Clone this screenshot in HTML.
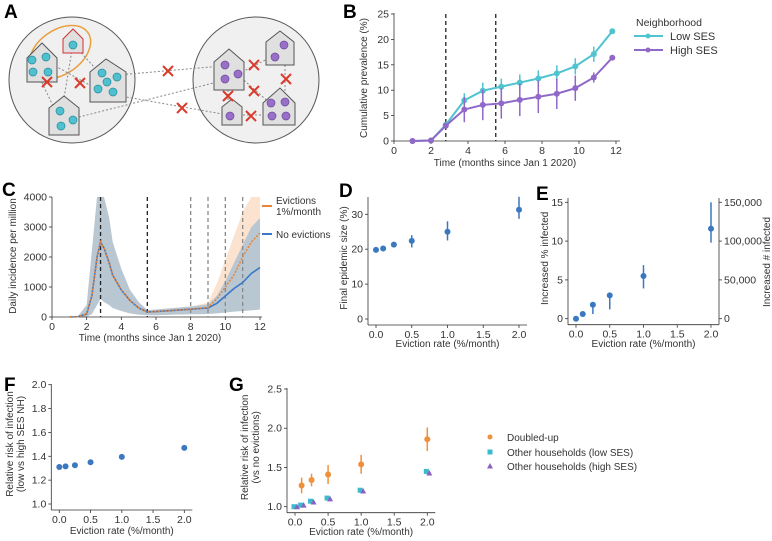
<!DOCTYPE html>
<html><head><meta charset="utf-8"><style>
html,body{margin:0;padding:0;background:#fff;width:772px;height:541px;overflow:hidden}
svg{display:block;font-family:"Liberation Sans",sans-serif}
text{fill:#333}
.pl{font-weight:bold;font-size:19px;fill:#000}
</style></head><body>
<svg id="fig" width="772" height="541" viewBox="0 0 772 541">
<text class="pl" x="4" y="18">A</text>
<text class="pl" x="343" y="18">B</text>
<text class="pl" x="2" y="196">C</text>
<text class="pl" x="339" y="197">D</text>
<text class="pl" x="536" y="200">E</text>
<text class="pl" x="4" y="391">F</text>
<text class="pl" x="229" y="391">G</text>
<g id="schematic">
<circle cx="72" cy="80" r="63" fill="#f0f0f0" stroke="#555"/>
<circle cx="256" cy="80" r="63" fill="#f0f0f0" stroke="#555"/>
<ellipse cx="60" cy="52" rx="34" ry="22" transform="rotate(-35 60 52)" fill="none" stroke="#e8a040" stroke-width="1.5"/>
<g stroke="#888" stroke-dasharray="2,2" fill="none">
<line x1="48" y1="62" x2="95" y2="88"/><line x1="73" y1="44" x2="95" y2="68"/><line x1="73" y1="44" x2="62" y2="110"/>
<line x1="35" y1="68" x2="55" y2="110"/><line x1="118" y1="75" x2="222" y2="66"/><line x1="75" y1="118" x2="225" y2="80"/>
<line x1="115" y1="95" x2="228" y2="115"/><line x1="242" y1="72" x2="275" y2="55"/><line x1="238" y1="75" x2="280" y2="112"/>
<line x1="285" y1="45" x2="285" y2="95"/><line x1="231" y1="115" x2="275" y2="115"/><line x1="228" y1="70" x2="228" y2="110"/>
</g>
<g fill="#e0e0e0" stroke="#555">
<path d="M27 58 L42 43 L57 58 L57 82 L27 82Z"/>
<path d="M63 39 L73 29 L83 39 L83 53 L63 53Z" stroke="#d03030"/>
<path d="M90 72 L106 59 L126 72 L126 102 L90 102Z"/>
<path d="M49 108 L64 96 L79 108 L79 135 L49 135Z"/>
<path d="M214 62 L229 49 L244 62 L244 90 L214 90Z"/>
<path d="M266 42 L280 31 L294 42 L294 65 L266 65Z"/>
<path d="M222 107 L232 99 L242 107 L242 125 L222 125Z"/>
<path d="M263 103 L280 88 L295 103 L295 125 L263 125Z"/>
</g>
<g fill="#4fc0cf" stroke="#2a8a99" stroke-width=".7">
<circle cx="32" cy="60" r="4"/><circle cx="46" cy="57" r="4"/><circle cx="33" cy="72" r="4"/><circle cx="48" cy="72" r="4"/>
<circle cx="73" cy="45" r="4"/>
<circle cx="102" cy="73" r="4"/><circle cx="117" cy="77" r="4"/><circle cx="107" cy="82" r="4"/><circle cx="98" cy="89" r="4"/><circle cx="113" cy="92" r="4"/>
<circle cx="60" cy="111" r="4"/><circle cx="73" cy="120" r="4"/><circle cx="61" cy="126" r="4"/>
</g>
<g fill="#9a6fc8" stroke="#6a4a99" stroke-width=".7">
<circle cx="225" cy="65" r="4"/><circle cx="238" cy="74" r="4"/><circle cx="225" cy="79" r="4"/>
<circle cx="284" cy="45" r="4"/><circle cx="275" cy="57" r="4"/>
<circle cx="230" cy="116" r="4"/>
<circle cx="271" cy="103" r="4"/><circle cx="285" cy="102" r="4"/><circle cx="272" cy="116" r="4"/><circle cx="286" cy="116" r="4"/>
</g>
<g stroke="#d93a2a" stroke-width="2" id="xs"></g>
</g>
<g id="charts"></g>
</svg>
<script>
// ---------- data ----------
const bMonths=[1,2,2.8,3.8,4.8,5.8,6.8,7.8,8.8,9.8,10.8,11.8];
const bLow=[0,0.1,3.2,8,9.9,10.7,11.5,12.3,13.3,14.7,17.1,21.6];
const bLowErr=[0,0,0,1.4,1.6,1.6,1.6,1.6,1.6,1.6,1.5,0.3];
const bHigh=[0,0.1,3.0,6.2,7.1,7.4,8.1,8.7,9.3,10.4,12.5,16.4];
const bHighErr=[0,0,0,2.5,3,3,3.2,3.2,3,2.5,1,0.2];
const cTime=[1,1.5,2,2.3,2.6,2.8,3,3.3,3.5,4,4.5,5,5.5,6,7,8,9,9.5,10,10.5,11,11.5,12];
const cNoEv=[0,10,100,700,2000,2500,2300,1800,1400,900,550,300,170,180,220,260,300,450,700,950,1150,1450,1650];
const cEv=[0,10,100,700,2000,2500,2300,1800,1400,900,550,300,170,180,220,260,320,600,1000,1400,2000,2500,2800];
const cBandHi=[0,30,400,2200,4000,4000,4000,3300,2500,1600,900,500,230,250,300,350,420,700,1200,1800,2400,3000,3300];
const cBandHiEv=[0,30,400,2200,4000,4000,4000,3300,2500,1600,900,500,230,250,300,350,480,1100,1900,2700,3500,4000,4000];
const cBandLo=[0,0,10,100,400,600,500,400,300,200,120,80,60,60,80,90,100,120,150,180,200,220,250];
const evRates=[0,0.1,0.25,0.5,1,2];
const dSize=[19.8,20.2,21.3,22.4,25,31.3];
const dLo=[19.4,19.8,20.6,20.5,22.5,28.7];
const dHi=[20.2,20.6,22,24,28,35];
const eInc=[0,0.6,1.8,3,5.5,11.6];
const eLo=[0,0.3,0.6,1.2,3.9,9.8];
const eHi=[0.2,0.9,2.1,3.2,6.9,15];
const fRR=[1.31,1.315,1.325,1.35,1.395,1.47];
const gRates=[0.1,0.25,0.5,1,2];
const gDoubled=[1.27,1.34,1.41,1.54,1.86];
const gDoubledErr=[0.1,0.08,0.12,0.12,0.15];
const gLow=[1.0,1.02,1.07,1.11,1.21,1.45];
const gHigh=[1.0,1.02,1.06,1.1,1.2,1.43];
const bXTicks=[0,2,4,6,8,10,12];
const bYTicks=[0,5,10,15,20,25];
const cYTicks=[0,1000,2000,3000,4000];
const evTicks=[0,0.5,1,1.5,2];
// ---------- helpers ----------
const NS="http://www.w3.org/2000/svg";
const root=document.getElementById('charts');
function el(tag,attrs,parent,txt){const e=document.createElementNS(NS,tag);for(const k in attrs)e.setAttribute(k,attrs[k]);if(txt!==undefined)e.textContent=txt;(parent||root).appendChild(e);return e;}
function lin(d0,d1,r0,r1){return v=>r0+(v-d0)*(r1-r0)/(d1-d0);}
function axes(g,x0,x1,y0,y1){el('line',{x1:x0,y1:y0,x2:x0,y2:y1,stroke:'#333','stroke-width':0.8},g);el('line',{x1:x0,y1:y0,x2:x1,y2:y0,stroke:'#333','stroke-width':0.8},g);}
function xtick(g,x,y,lab){el('line',{x1:x,y1:y,x2:x,y2:y+3,stroke:'#333','stroke-width':0.8},g);const t=el('text',{x:x,y:y+13,'text-anchor':'middle','font-size':10.5},g,lab);}
function ytick(g,x,y,lab){el('line',{x1:x,y1:y,x2:x-3,y2:y,stroke:'#333','stroke-width':0.8},g);const t=el('text',{x:x-5,y:y+3.5,'text-anchor':'end','font-size':10.5},g,lab);}
function ylab(g,x,y,lines){lines.forEach((l,i)=>{const t=el('text',{x:0,y:0,transform:`translate(${x+i*11},${y}) rotate(-90)`,'text-anchor':'middle','font-size':10},g,l);});}
function xlab(g,x,y,l){const t=el('text',{x:x,y:y,'text-anchor':'middle','font-size':10},g,l);}
function vline(g,x,y0,y1,col,dash){el('line',{x1:x,y1:y0,x2:x,y2:y1,stroke:col,'stroke-width':1.3,'stroke-dasharray':dash},g);}
const xg=document.getElementById('xs');
[[47,82],[80,83],[168,71],[182,108],[254,65],[254,91],[228,96],[251,116],[286,79]].forEach(p=>{el('path',{d:`M${p[0]-5} ${p[1]-5}L${p[0]+5} ${p[1]+5}M${p[0]+5} ${p[1]-5}L${p[0]-5} ${p[1]+5}`},xg);});
// ---------- Panel B ----------
(function(){
const g=el('g',{});
const X=lin(0,12,394,616),Y=lin(0,25,141,14);
axes(g,394,620,141,13);
bXTicks.forEach(v=>xtick(g,X(v),141,v));bYTicks.forEach(v=>ytick(g,394,Y(v),v));
ylab(g,367,78,['Cumulative prevalence (%)']);xlab(g,505,166,'Time (months since Jan 1 2020)');
vline(g,X(2.8),14,141,'#222','4,3');vline(g,X(5.5),14,141,'#222','4,3');
[[bLow,bLowErr,'#4fc3cf','low-ses'],[bHigh,bHighErr,'#9068c8','high-ses']].forEach(s=>{
 const sg=el('g',{},g);
 s[0].forEach((v,i)=>{if(s[1][i]>0)el('line',{x1:X(bMonths[i]),x2:X(bMonths[i]),y1:Y(v-s[1][i]),y2:Y(v+s[1][i]),stroke:s[2],'stroke-width':1.5},sg);});
 el('polyline',{points:s[0].map((v,i)=>X(bMonths[i])+','+Y(v)).join(' '),fill:'none',stroke:s[2],'stroke-width':2},sg);
 s[0].forEach((v,i)=>{el('circle',{cx:X(bMonths[i]),cy:Y(v),r:3,fill:s[2]},sg);});
});
const lg=el('g',{},g);
el('text',{x:636,y:26,'font-size':10.5},lg,'Neighborhood');
el('line',{x1:634,x2:663,y1:36,y2:36,stroke:'#4fc3cf','stroke-width':2},lg);el('circle',{cx:648,cy:36,r:2.5,fill:'#4fc3cf'},lg);el('text',{x:670,y:40,'font-size':11},lg,'Low SES');
el('line',{x1:634,x2:663,y1:50,y2:50,stroke:'#9068c8','stroke-width':2},lg);el('circle',{cx:648,cy:50,r:2.5,fill:'#9068c8'},lg);el('text',{x:670,y:54,'font-size':11},lg,'High SES');
})();
// ---------- Panel C ----------
(function(){
const g=el('g',{});
const X=lin(0,12,52,260),Y=lin(0,4000,317,197);
const band=(hi,lo,fill)=>el('path',{d:'M'+cTime.map((t,i)=>X(t)+','+Y(hi[i])).join('L')+'L'+cTime.map((t,i)=>X(t)+','+Y(lo[i])).reverse().join('L')+'Z',fill:fill},g);
const b1=band(cBandHiEv,cBandLo,'#fbe3cf');
const b2=band(cBandHi,cBandLo,'#b9c7d2');
axes(g,52,262,317,197);
[0,2,4,6,8,10,12].forEach(v=>xtick(g,X(v),317,v));cYTicks.forEach(v=>ytick(g,52,Y(v),v));
ylab(g,16,256,['Daily incidence per million']);xlab(g,150,341,'Time (months since Jan 1 2020)');
vline(g,X(2.8),197,317,'#222','4,3');vline(g,X(5.5),197,317,'#222','4,3');
[8,9,10,11].forEach(v=>vline(g,X(v),197,317,'#888','4,3'));
const l1=el('polyline',{points:cNoEv.map((v,i)=>X(cTime[i])+','+Y(v)).join(' '),fill:'none',stroke:'#3a78c8','stroke-width':1.6},g);
const l2=el('polyline',{points:cEv.map((v,i)=>X(cTime[i])+','+Y(v)).join(' '),fill:'none',stroke:'#e8853a','stroke-width':1.6,'stroke-dasharray':'2,1.5'},g);
const lg=el('g',{},g);
el('line',{x1:262,x2:272,y1:206,y2:206,stroke:'#e8853a','stroke-width':2},lg);el('text',{x:276,y:204,'font-size':10},lg,'Evictions');el('text',{x:276,y:215,'font-size':10},lg,'1%/month');
el('line',{x1:262,x2:272,y1:234,y2:234,stroke:'#3a78c8','stroke-width':2},lg);el('text',{x:276,y:238,'font-size':10},lg,'No evictions');
})();
function scatter(name,xr,yr,yt,fmtY,ylines,ylx,xly){
 const g=el('g',{});
 const X=lin(0,2,xr[0],xr[1]),Y=lin(yr[2],yr[3],yr[0],yr[1]);
 axes(g,xr[0]-8,xr[1]+8,yr[0]+6,yr[4]);
 evTicks.forEach(v=>xtick(g,X(v),yr[0]+6,v.toFixed(1)));
 yt.forEach(v=>ytick(g,xr[0]-8,Y(v),fmtY(v)));
 ylab(g,ylx,(yr[0]+yr[4])/2,ylines);
 xlab(g,(xr[0]+xr[1])/2,xly,'Eviction rate (%/month)');
 return {g,X,Y};
}
// ---------- Panel D ----------
(function(){
const p=scatter('panel-d-chart',[376,519],[319,214.3,0,30,197],[0,10,20,30],v=>v,['Final epidemic size (%)'],347,347);
evRates.forEach((r,i)=>{el('line',{x1:p.X(r),x2:p.X(r),y1:p.Y(dLo[i]),y2:p.Y(dHi[i]),stroke:'#3a78c0','stroke-width':1.5},p.g);const c=el('circle',{cx:p.X(r),cy:p.Y(dSize[i]),r:3,fill:'#3a78c0'},p.g);});
})();
// ---------- Panel E ----------
(function(){
const p=scatter('panel-e-chart',[576,711],[318.7,202.3,0,15,198],[0,5,10,15],v=>v,['Increased % infected'],548,347);
el('line',{x1:719,y1:324.7,x2:719,y2:198,stroke:'#333','stroke-width':0.8},p.g);
[[0,'0'],[5,'50,000'],[10,'100,000'],[15,'150,000']].forEach(t=>{el('line',{x1:719,x2:722,y1:p.Y(t[0]),y2:p.Y(t[0]),stroke:'#333','stroke-width':0.8},p.g);el('text',{x:724,y:p.Y(t[0])+3.5,'font-size':10.5},p.g,t[1]);});
const t=el('text',{x:0,y:0,transform:'translate(770,262) rotate(-90)','text-anchor':'middle','font-size':10},p.g,'Increased # infected');
evRates.forEach((r,i)=>{el('line',{x1:p.X(r),x2:p.X(r),y1:p.Y(eLo[i]),y2:p.Y(eHi[i]),stroke:'#3a78c0','stroke-width':1.5},p.g);const c=el('circle',{cx:p.X(r),cy:p.Y(eInc[i]),r:3,fill:'#3a78c0'},p.g);});
})();
// ---------- Panel F ----------
(function(){
const p=scatter('panel-f-chart',[59.3,184.3],[504,384.7,1.0,2.0,384],[1.0,1.2,1.4,1.6,1.8,2.0],v=>v.toFixed(1),['Relative risk of infection','(low vs high SES NH)'],13,534);
evRates.forEach((r,i)=>{const c=el('circle',{cx:p.X(r),cy:p.Y(fRR[i]),r:3,fill:'#3a78c0'},p.g);});
})();
// ---------- Panel G ----------
(function(){
const p=scatter('panel-g-chart',[295,427.3],[506.7,389,1.0,2.5,388],[1.0,1.5,2.0,2.5],v=>v.toFixed(1),['Relative risk of infection','(vs no evictions)'],248,535);
gRates.forEach((r,i)=>{el('line',{x1:p.X(r),x2:p.X(r),y1:p.Y(gDoubled[i]-gDoubledErr[i]),y2:p.Y(gDoubled[i]+gDoubledErr[i]),stroke:'#f0903a','stroke-width':1.5},p.g);const c=el('circle',{cx:p.X(r),cy:p.Y(gDoubled[i]),r:3,fill:'#f0903a'},p.g);});
evRates.forEach((r,i)=>{const x=p.X(r)-1,y=p.Y(gLow[i]);const s=el('rect',{x:x-2.5,y:y-2.5,width:5,height:5,fill:'#3bbccc'},p.g);});
evRates.forEach((r,i)=>{const x=p.X(r)+2,y=p.Y(gHigh[i]);const s=el('path',{d:`M${x} ${y-3}L${x+3} ${y+2.5}L${x-3} ${y+2.5}Z`,fill:'#8a62c4'},p.g);});
const lg=el('g',{},p.g);
el('circle',{cx:490,cy:437,r:2.5,fill:'#f0903a'},lg);el('text',{x:507,y:441,'font-size':10},lg,'Doubled-up');
el('rect',{x:487.5,y:449.5,width:5,height:5,fill:'#3bbccc'},lg);el('text',{x:507,y:456,'font-size':10},lg,'Other households (low SES)');
el('path',{d:'M490 463L493 468.5L487 468.5Z',fill:'#8a62c4'},lg);el('text',{x:507,y:470,'font-size':10},lg,'Other households (high SES)');
})();
</script>
</body></html>
